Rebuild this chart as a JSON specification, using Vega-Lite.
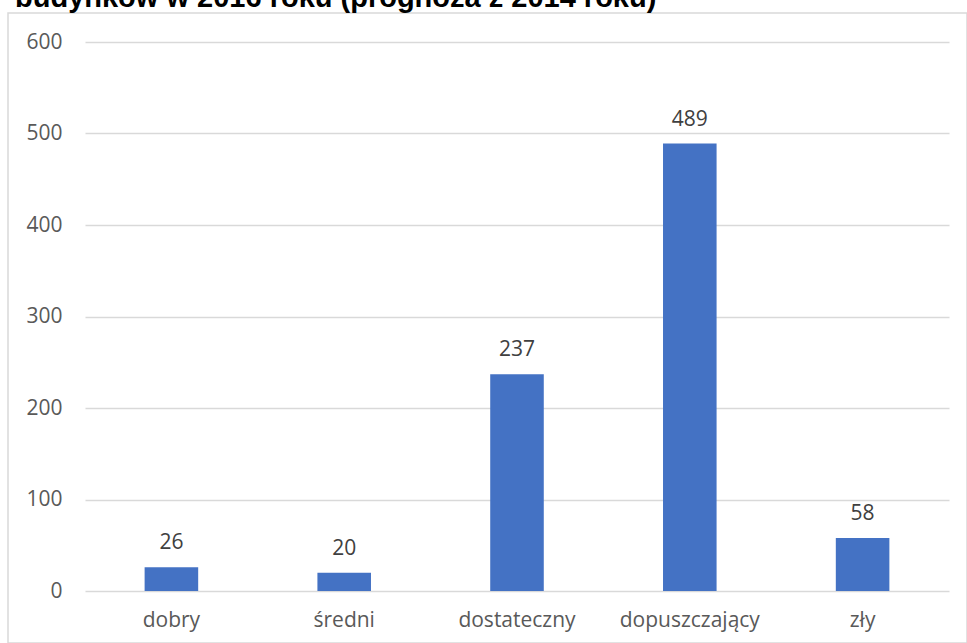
{
  "$schema": "https://vega.github.io/schema/vega-lite/v6.json",
  "autosize": {"type": "none"},
  "padding": {"left": 8, "top": 13, "right": 0, "bottom": 0},
  "width": 959,
  "height": 630,
  "background": "white",
  "title": {
    "text": "budynków w 2016 roku (prognoza z 2014 roku)",
    "anchor": "start",
    "font": "Liberation Sans",
    "fontSize": 29,
    "fontWeight": "bold",
    "color": "#000000",
    "baseline": "alphabetic",
    "offset": 0,
    "dx": 7,
    "dy": 23
  },
  "config": {
    "view": {"stroke": "#D9D9D9", "strokeWidth": 1.5},
    "axis": {
      "labelFont": "Open Sans",
      "labelFontSize": 21,
      "labelColor": "#595959",
      "ticks": false,
      "tickSize": 0,
      "domain": false,
      "title": null
    }
  },
  "data": {
    "values": [
      {"kategoria": "dobry", "liczba": 26},
      {"kategoria": "średni", "liczba": 20},
      {"kategoria": "dostateczny", "liczba": 237},
      {"kategoria": "dopuszczający", "liczba": 489},
      {"kategoria": "zły", "liczba": 58}
    ]
  },
  "encoding": {
    "x": {
      "field": "kategoria",
      "type": "nominal",
      "sort": null,
      "scale": {"range": [77, 941], "paddingInner": 0.69, "paddingOuter": 0.345},
      "axis": {
        "orient": "bottom",
        "offset": -52,
        "labelAngle": 0,
        "labelPadding": 35,
        "labelBaseline": "alphabetic",
        "grid": false
      }
    },
    "y": {
      "field": "liczba",
      "type": "quantitative",
      "scale": {"domain": [0, 600], "range": [578, 29], "nice": false, "zero": true},
      "axis": {
        "orient": "left",
        "offset": -77,
        "values": [0, 100, 200, 300, 400, 500, 600],
        "labelPadding": 23,
        "grid": true,
        "gridColor": "#D9D9D9",
        "gridWidth": 1.5
      }
    }
  },
  "layer": [
    {"mark": {"type": "bar", "color": "#4472C4"}},
    {
      "mark": {
        "type": "text",
        "font": "Open Sans",
        "fontSize": 21,
        "color": "#404040",
        "baseline": "alphabetic",
        "dy": -18
      },
      "encoding": {"text": {"field": "liczba", "type": "quantitative"}}
    }
  ]
}
